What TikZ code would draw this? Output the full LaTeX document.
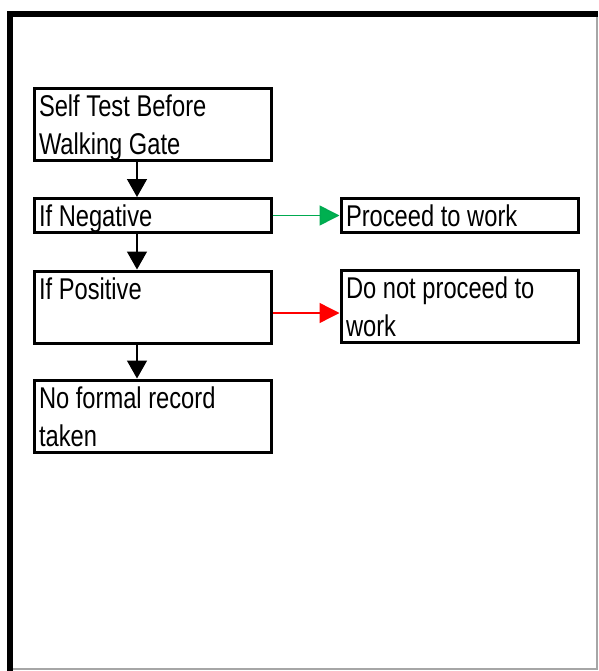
\documentclass[tikz,border=0pt]{standalone}
\usepackage{fontspec}
\setmainfont[FakeStretch=0.79]{Liberation Sans}
\usetikzlibrary{arrows.meta}

\definecolor{okgreen}{RGB}{0,176,80}
\definecolor{okline}{RGB}{0,170,80}
\definecolor{stopred}{RGB}{255,0,0}

\tikzset{
  stepbox/.style={draw=black, line width=3pt, anchor=center,
    inner xsep=5pt, inner ysep=3pt, text width=227pt, align=left,
    text height=25pt, font=\fontsize{30}{38}\selectfont,
    execute at begin node={\spaceskip=6.6pt\relax\xspaceskip=6.6pt\relax}},
  tallbox/.style={stepbox, text depth=41pt},
  shortbox/.style={stepbox, text depth=3pt},
  flow/.style={line width=1.5pt, draw=black,
    -{Triangle[length=18pt, width=20pt]}},
  yes/.style={line width=1.6pt, draw=okline,
    -{Triangle[length=20pt, width=20pt, fill=okgreen]}},
  no/.style={line width=1.4pt, draw=stopred,
    -{Triangle[length=20pt, width=20pt, fill=stopred]}},
}

\begin{document}
\begin{tikzpicture}[x=1pt, y=-1pt]
  \useasboundingbox (0,0) rectangle (598,671);

  % page frame
  \draw[line width=6pt, line join=miter] (10,671) -- (10,14) -- (598,14);
  \draw[gray!70, line width=1.5pt] (597,17) -- (597,669) -- (13,669);

  % boxes of the flow
  \node[tallbox]  (self) at (152.5,124.5) {Self Test Before\\Walking Gate};
  \node[shortbox] (neg)  at (152.5,215.5) {If Negative};
  \node[tallbox]  (pos)  at (152.5,307)   {If Positive};
  \node[tallbox]  (rec)  at (152.5,416)   {No formal record\\taken};
  \node[shortbox] (work) at (459.5,215.5) {Proceed to work};
  \node[tallbox]  (stop) at (459.5,306.5) {Do not proceed to\\work};

  % vertical spine of the arrows
  \coordinate (spine) at (137,0);
  \draw[flow] (self.south -| spine) -- (neg.north -| spine);
  \draw[flow] (neg.south -| spine) -- (pos.north -| spine);
  \draw[flow] (pos.south -| spine) -- (rec.north -| spine);

  % outcomes
  \draw[yes] (neg.east) -- (work.west);
  \coordinate (redrow) at (0,313);
  \draw[no] (pos.east |- redrow) -- (stop.west |- redrow);
\end{tikzpicture}
\end{document}
